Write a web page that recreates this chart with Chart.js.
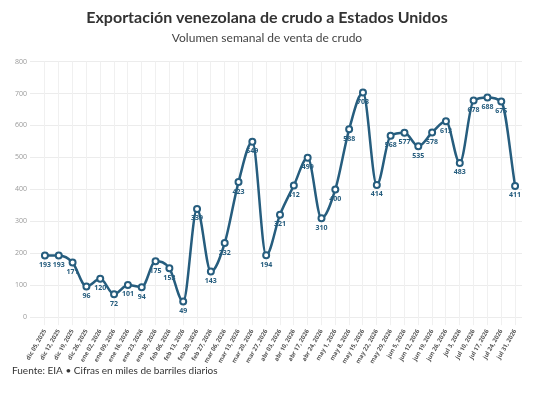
<!DOCTYPE html>
<html><head><meta charset="utf-8">
<script src="https://cdn.jsdelivr.net/npm/chart.js@4"></script>
<style>html,body{margin:0;padding:0;background:#fff;}#w{width:540px;height:400px;position:relative;}</style>
</head><body><div id="w"><canvas id="c"></canvas></div>
<script>
const labels=["dic 05, 2025","dic 12, 2025","dic 19, 2025","dic 26, 2025","ene 02, 2026","ene 09, 2026","ene 16, 2026","ene 23, 2026","ene 30, 2026","feb 06, 2026","feb 13, 2026","feb 20, 2026","feb 27, 2026","mar 06, 2026","mar 13, 2026","mar 20, 2026","mar 27, 2026","abr 03, 2026","abr 10, 2026","abr 17, 2026","abr 24, 2026","may 1, 2026","may 8, 2026","may 15, 2026","may 22, 2026","may 29, 2026","jun 5, 2026","jun 12, 2026","jun 19, 2026","jun 26, 2026","jul 3, 2026","jul 10, 2026","jul 17, 2026","jul 24, 2026","jul 31, 2026"];
const values=[193,193,171,96,120,72,101,94,175,153,49,339,143,232,423,549,194,321,412,499,310,400,588,703,414,568,577,535,578,613,483,678,688,675,411];
const yTicks=[0,100,200,300,400,500,600,700,800];
const col='#265d7e';
const lbl={id:'lbl',afterDatasetsDraw(ch){const ctx=ch.ctx,m=ch.getDatasetMeta(0);ctx.save();ctx.font='bold 7px "Open Sans"';ctx.fillStyle=col;ctx.textAlign='center';ctx.textBaseline='top';
m.data.forEach((p,i)=>ctx.fillText(values[i],p.x,p.y+6));ctx.restore();}};
new Chart(document.getElementById('c'),{type:'line',data:{labels,datasets:[{data:values,borderColor:col,borderWidth:2.5,tension:0.4,cubicInterpolationMode:'monotone',pointRadius:3,pointBorderWidth:2,pointBackgroundColor:'#fff',pointBorderColor:col}]},
options:{responsive:true,maintainAspectRatio:false,animation:false,layout:{padding:{left:12,right:18,top:4,bottom:32}},
plugins:{legend:{display:false},tooltip:{enabled:false},
title:{display:true,text:'Exportación venezolana de crudo a Estados Unidos',color:'#333',font:{family:'Lato',size:16,weight:'bold'},padding:{top:4,bottom:4}},
subtitle:{display:true,text:'Volumen semanal de venta de crudo',color:'#444',font:{family:'Lato',size:12},padding:{bottom:16}}},
scales:{y:{min:0,max:800,afterBuildTicks(a){a.ticks=yTicks.map(v=>({value:v}));},ticks:{color:'#999',font:{family:'Open Sans',size:7}},grid:{color:'#ececec'},border:{display:false}},
x:{offset:true,ticks:{color:'#555',font:{family:'Open Sans',size:6,weight:'bold'},maxRotation:60,minRotation:60,autoSkip:false},grid:{color:'#f0f0f0'},border:{display:false}}}},
plugins:[lbl,{id:'foot',afterDraw(ch){const c=ch.ctx;c.save();c.font='10px Lato';c.fillStyle='#333';c.textAlign='left';c.fillText('Fuente: EIA • Cifras en miles de barriles diarios',12,374);c.restore();}}]});
</script></body></html>
